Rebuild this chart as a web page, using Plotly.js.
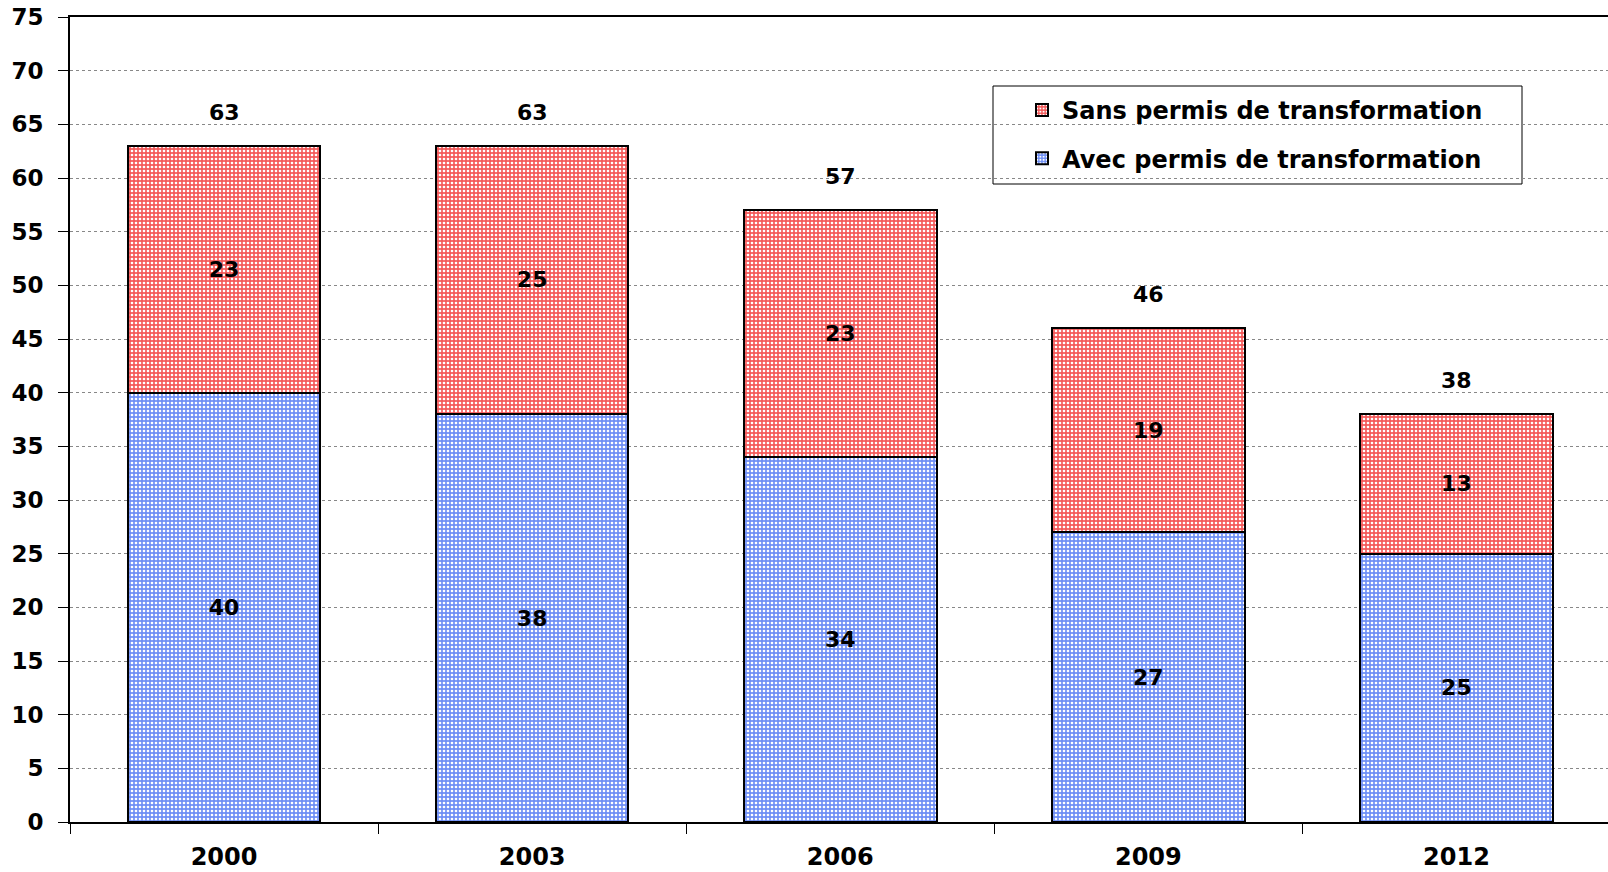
<!DOCTYPE html>
<html>
<head>
<meta charset="utf-8">
<script src="https://cdn.plot.ly/plotly-3.0.1.min.js"></script>
<style>html,body{margin:0;padding:0;background:#fff;}#chart{width:1608px;height:872px;}</style>
</head>
<body>
<div id="chart"></div>
<script>
const years = ['2000', '2003', '2006', '2009', '2012'];
const avecPermis = [40, 38, 34, 27, 25];
const sansPermis = [23, 25, 23, 19, 13];
const totals = [63, 63, 57, 46, 38];
const seriesNames = ['Avec permis de transformation', 'Sans permis de transformation'];

const FONT = 'DejaVu Sans, Liberation Sans, Arial, sans-serif';
const W = 1608, H = 872;
const mL = 70, mR = 0, mT = 17, mB = 50;

const trAvec = {
  type: 'bar', x: years, y: avecPermis, name: seriesNames[0],
  legendgroup: 'a', legendrank: 2,
  width: 0.625,
  marker: {color: '#6f8ff5', line: {color: '#000', width: 2},
    pattern: {shape: '.', fgcolor: '#ffffff', bgcolor: '#6f8ff5', size: 4, solidity: 0.35, fillmode: 'replace'}},
  text: avecPermis.map(String), textposition: 'inside', insidetextanchor: 'middle',
  textfont: {family: FONT, size: 22, color: '#000', weight: 700},
  constraintext: 'none', hoverinfo: 'x+y'
};
const trSans = {
  type: 'bar', x: years, y: sansPermis, name: seriesNames[1],
  legendgroup: 'b', legendrank: 1,
  width: 0.625,
  marker: {color: '#f45a5a', line: {color: '#000', width: 2},
    pattern: {shape: '.', fgcolor: '#ffffff', bgcolor: '#f45a5a', size: 4, solidity: 0.35, fillmode: 'replace'}},
  text: sansPermis.map(String), textposition: 'inside', insidetextanchor: 'middle',
  textfont: {family: FONT, size: 22, color: '#000', weight: 700},
  constraintext: 'none', hoverinfo: 'x+y'
};

const annotations = years.map((yr, i) => ({
  x: i, y: totals[i], xref: 'x', yref: 'y', text: String(totals[i]),
  showarrow: false, yanchor: 'bottom', yshift: 19,
  font: {family: FONT, size: 22, color: '#000', weight: 700}
}));

const px2x = p => (p - mL) / (W - mL - mR);
const px2y = p => (H - mB - p) / (H - mT - mB);

const layout = {
  width: W, height: H,
  margin: {l: mL, r: mR, t: mT, b: mB, pad: 0},
  paper_bgcolor: '#fff', plot_bgcolor: '#fff',
  barmode: 'stack',
  showlegend: true,
  font: {family: FONT, color: '#000'},
  xaxis: {
    type: 'category', range: [-0.5, 4.492], autorange: false,
    showgrid: false, zeroline: false,
    showline: true, linecolor: '#000', linewidth: 2, mirror: true,
    ticks: 'outside', tickson: 'boundaries', ticklen: 10, tickcolor: '#000', tickwidth: 1,
    ticklabelstandoff: 12,
    tickfont: {family: FONT, size: 24, color: '#000', weight: 700},
    fixedrange: true
  },
  yaxis: {
    range: [0, 75], autorange: false, dtick: 5, tick0: 0,
    showgrid: true, gridcolor: '#888', griddash: 'dot', gridwidth: 1,
    zeroline: false,
    showline: true, linecolor: '#000', linewidth: 2,
    ticks: 'outside', ticklen: 10, tickcolor: '#000', tickwidth: 1,
    ticklabelstandoff: 10,
    tickfont: {family: FONT, size: 23, color: '#000', weight: 700},
    fixedrange: true
  },
  legend: {
    x: px2x(1022), y: px2y(88), xanchor: 'left', yanchor: 'top',
    xref: 'paper', yref: 'paper',
    traceorder: 'grouped', tracegroupgap: 14,
    bgcolor: 'rgba(0,0,0,0)', borderwidth: 0,
    font: {family: FONT, size: 24, color: '#000', weight: 700}
  },
  shapes: [{
    type: 'rect', xref: 'paper', yref: 'paper',
    x0: px2x(993), x1: px2x(1522), y0: px2y(184), y1: px2y(86),
    line: {color: '#000', width: 1}, fillcolor: '#fff', layer: 'below'
  }],
  annotations: annotations
};

Plotly.newPlot('chart', [trAvec, trSans], layout, {displayModeBar: false, staticPlot: true});
</script>
</body>
</html>
